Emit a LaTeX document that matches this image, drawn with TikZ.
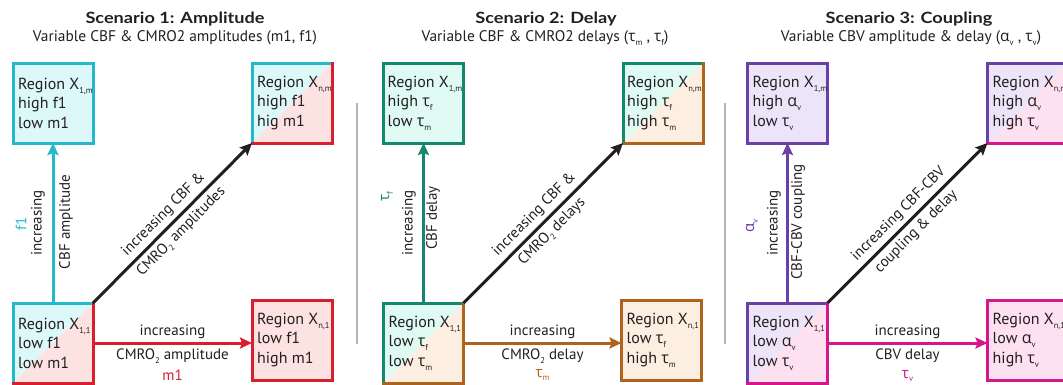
\documentclass[tikz,border=0pt]{standalone}
\usepackage{fontspec}
\setmainfont{PT Sans}
\newfontfamily\grk{Open Sans}
\newfontfamily\ttlfont{Lato}[FakeStretch=1.17]
\usetikzlibrary{arrows.meta}
\definecolor{cyB}{HTML}{24B8CD}
\definecolor{cyF}{HTML}{DDF8F8}
\definecolor{rdB}{HTML}{D81F2E}
\definecolor{rdF}{HTML}{FDE2E2}
\definecolor{tlB}{HTML}{16876F}
\definecolor{tlF}{HTML}{DFF9F3}
\definecolor{brB}{HTML}{B0631C}
\definecolor{brF}{HTML}{FCEFE2}
\definecolor{puB}{HTML}{6A3FA6}
\definecolor{puF}{HTML}{ECE5FA}
\definecolor{mgB}{HTML}{D6168A}
\definecolor{mgF}{HTML}{FDE1F0}
\definecolor{ink}{HTML}{231F20}
\definecolor{sepc}{HTML}{B4B4B4}
\newcommand\sbs[1]{\raisebox{-0.5ex}{\fontsize{8.5}{8.5}\selectfont #1}}
\newcommand\gtau{{\grk τ}}
\newcommand\galpha{{\grk α}}
\tikzset{
  box/.style={minimum width=80pt, minimum height=80pt, inner sep=0pt, outer sep=0pt, line width=3pt},
  btxt/.style={anchor=west, inner sep=0pt, align=left, text=ink,
    font=\fontsize{16}{19.5}\selectfont},
  split/.style 2 args={fill=white, path picture={
    \fill[#1] (path picture bounding box.north west) -- (path picture bounding box.north east) -- (path picture bounding box.south west) -- cycle;
    \fill[#2] (path picture bounding box.north east) -- (path picture bounding box.south east) -- (path picture bounding box.south west) -- cycle;}},
  edgeA/.style={line width=3pt, line cap=rect},
  arr/.style={line width=3pt, -{Stealth[length=12pt,width=11pt,inset=2pt]}},
  lbl/.style={font=\fontsize{15}{17}\selectfont, text=ink, inner sep=0pt},
  ttl/.style={font=\fontsize{15.5}{17}\ttlfont\bfseries, text=ink},
  subt/.style={font=\fontsize{15.4}{17}\selectfont, text=ink},
  sepline/.style={draw=sepc, line width=1.5pt}
}
\begin{document}
\begin{tikzpicture}[x=1pt,y=-1pt]
\useasboundingbox (0,0) rectangle (1063,384);
% separators
\draw[sepline] (357,103) -- (357,344);
\draw[sepline] (725,103) -- (725,344);
% titles
\node[ttl] (t1) at (175,19) {Scenario 1: Amplitude};
\node[subt] (s1) at (175,38) {Variable CBF \& CMRO2 amplitudes (m1, f1)};
\node[ttl] (t2) at (546,19) {Scenario 2: Delay};
\node[subt] (s2) at (545,38) {Variable CBF \& CMRO2 delays (\gtau\sbs{m} , \gtau\sbs{f})};
\node[ttl] (t3) at (909,19) {Scenario 3: Coupling};
\node[subt] (s3) at (911,38) {Variable CBV amplitude \& delay (\galpha\sbs{v} , \gtau\sbs{v})};

% ===== Scenario 1 =====
\node[box, draw=cyB, fill=cyF] (a1m) at (53,103) {};
\node[btxt] (a1m-t) at ([xshift=5pt]a1m.west) {Region X\sbs{1,m}\\high f1\\low m1};
\node[box, split={cyF}{rdF}] (anm) at (292,103) {};
\draw[edgeA, cyB] (anm.south west) -- (anm.north west) -- (anm.north east);
\draw[edgeA, rdB] (anm.north east) -- (anm.south east) -- (anm.south west);
\node[btxt] (anm-t) at ([xshift=5pt]anm.west) {Region X\sbs{n,m}\\high f1\\hig m1};
\node[box, split={cyF}{rdF}] (a11) at (53,343) {};
\draw[edgeA, cyB] (a11.south west) -- (a11.north west) -- (a11.north east);
\draw[edgeA, rdB] (a11.north east) -- (a11.south east) -- (a11.south west);
\node[btxt] (a11-t) at ([xshift=5pt]a11.west) {Region X\sbs{1,1}\\low f1\\low m1};
\node[box, draw=rdB, fill=rdF] (an1) at (292,340) {};
\node[btxt] (an1-t) at ([xshift=5pt]an1.west) {Region X\sbs{n,1}\\low f1\\high m1};
\draw[arr, cyB] (a11.north) -- (a1m.south);
\node[lbl, rotate=90, text=cyB] (a-f) at (21,224) {f1};
\node[lbl, rotate=90] (a-i) at (38,223) {increasing};
\node[lbl, rotate=90] (a-c) at (66,222) {CBF amplitude};
\draw[arr, ink] (a11.north east) -- (anm.south west)
  node[midway, sloped, above=4pt, lbl] (a-d1) {increasing CBF \&}
  node[midway, sloped, below=4pt, lbl] (a-d2) {CMRO\sbs{2} amplitudes};
\draw[arr, rdB] (a11.east) -- (a11.east -| an1.west)
  node[midway, yshift=11pt, lbl] (a-h1) {increasing}
  node[midway, yshift=-13pt, lbl] (a-h2) {CMRO\sbs{2} amplitude}
  node[midway, yshift=-32pt, lbl, text=rdB] (a-h3) {m1};

% ===== Scenario 2 =====
\node[box, draw=tlB, fill=tlF] (b1m) at (423.5,103) {};
\node[btxt] (b1m-t) at ([xshift=4pt]b1m.west) {Region X\sbs{1,m}\\high \gtau\sbs{f}\\low \gtau\sbs{m}};
\node[box, split={tlF}{brF}] (bnm) at (663,103) {};
\draw[edgeA, tlB] (bnm.south west) -- (bnm.north west) -- (bnm.north east);
\draw[edgeA, brB] (bnm.north east) -- (bnm.south east) -- (bnm.south west);
\node[btxt] (bnm-t) at ([xshift=4pt]bnm.west) {Region X\sbs{n,m}\\high \gtau\sbs{f}\\high \gtau\sbs{m}};
\node[box, split={tlF}{brF}] (b11) at (423.5,343) {};
\draw[edgeA, tlB] (b11.south west) -- (b11.north west) -- (b11.north east);
\draw[edgeA, brB] (b11.north east) -- (b11.south east) -- (b11.south west);
\node[btxt] (b11-t) at ([xshift=5pt]b11.west) {Region X\sbs{1,1}\\low \gtau\sbs{f}\\low \gtau\sbs{m}};
\node[box, draw=brB, fill=brF] (bn1) at (661.5,340) {};
\node[btxt] (bn1-t) at ([xshift=5pt]bn1.west) {Region X\sbs{n,1}\\low \gtau\sbs{f}\\high \gtau\sbs{m}};
\draw[arr, tlB] (b11.north) -- (b1m.south);
\node[lbl, rotate=90, text=tlB] (b-f) at (387,197) {\gtau\sbs{f}};
\node[lbl, rotate=90] (b-i) at (409,223) {increasing};
\node[lbl, rotate=90] (b-c) at (433,218) {CBF delay};
\draw[arr, ink] (b11.north east) -- (bnm.south west)
  node[midway, sloped, above=4pt, lbl] (b-d1) {increasing CBF \&}
  node[midway, sloped, below=4pt, lbl] (b-d2) {CMRO\sbs{2} delays};
\draw[arr, brB] (b11.east) -- (b11.east -| bn1.west)
  node[midway, yshift=11pt, lbl] (b-h1) {increasing}
  node[midway, yshift=-13pt, lbl] (b-h2) {CMRO\sbs{2} delay}
  node[midway, yshift=-32pt, lbl, text=brB] (b-h3) {\gtau\sbs{m}};

% ===== Scenario 3 =====
\node[box, draw=puB, fill=puF] (c1m) at (787.5,103) {};
\node[btxt] (c1m-t) at ([xshift=5pt]c1m.west) {Region X\sbs{1,m}\\high \galpha\sbs{v}\\low \gtau\sbs{v}};
\node[box, split={puF}{mgF}] (cnm) at (1027.5,103) {};
\draw[edgeA, puB] (cnm.south west) -- (cnm.north west) -- (cnm.north east);
\draw[edgeA, mgB] (cnm.north east) -- (cnm.south east) -- (cnm.south west);
\node[btxt] (cnm-t) at ([xshift=5pt]cnm.west) {Region X\sbs{n,m}\\high \galpha\sbs{v}\\high \gtau\sbs{v}};
\node[box, split={puF}{mgF}] (c11) at (787.5,343) {};
\draw[edgeA, puB] (c11.south west) -- (c11.north west) -- (c11.north east);
\draw[edgeA, mgB] (c11.north east) -- (c11.south east) -- (c11.south west);
\node[btxt] (c11-t) at ([xshift=5pt]c11.west) {Region X\sbs{1,1}\\low \galpha\sbs{v}\\low \gtau\sbs{v}};
\node[box, draw=mgB, fill=mgF] (cn1) at (1027.5,340) {};
\node[btxt] (cn1-t) at ([xshift=5pt]cn1.west) {Region X\sbs{n,1}\\low \galpha\sbs{v}\\high \gtau\sbs{v}};
\draw[arr, puB] (c11.north) -- (c1m.south);
\node[lbl, rotate=90, text=puB] (c-f) at (752,226) {\galpha\sbs{v}};
\node[lbl, rotate=90] (c-i) at (774,223) {increasing};
\node[lbl, rotate=90] (c-c) at (798,222) {CBF-CBV coupling};
\draw[arr, ink] (c11.north east) -- (cnm.south west)
  node[midway, sloped, above=4pt, lbl] (c-d1) {increasing CBF-CBV}
  node[midway, sloped, below=4pt, lbl] (c-d2) {coupling \& delay};
\draw[arr, mgB] (c11.east) -- (c11.east -| cn1.west)
  node[midway, yshift=11pt, lbl] (c-h1) {increasing}
  node[midway, yshift=-13pt, lbl] (c-h2) {CBV delay}
  node[midway, yshift=-33pt, lbl, text=mgB] (c-h3) {\gtau\sbs{v}};
\end{tikzpicture}
\end{document}
